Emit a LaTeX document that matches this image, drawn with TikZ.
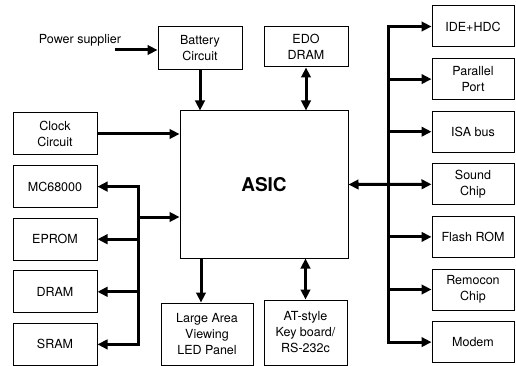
\documentclass[tikz,border=0pt]{standalone}
\usepackage{fontspec}
\setmainfont{TeX Gyre Heros}
\usetikzlibrary{arrows.meta}

\begin{document}
\begin{tikzpicture}[
    x=1pt, y=-1pt,
    every node/.style={font=\fontsize{12.5}{16}\selectfont, align=center, inner sep=0pt},
    blk/.style={draw, line width=1pt, minimum width=84pt, minimum height=42pt},
    bus/.style={line width=3pt},
    >={Triangle[length=10pt,width=9.5pt]},
]
\useasboundingbox (0,0) rectangle (516,366);

% === Layout ===
\def\rowH{52.6}
\coordinate (lb) at (138,0);
\coordinate (rb) at (388,0);

% === ASIC (centre) ===
\node[draw, line width=1pt, minimum width=168pt, minimum height=147pt,
      font=\fontsize{19}{21}\selectfont\bfseries] (asic) at (264,184.5) {ASIC};

% === Top row ===
\node (pwrtxt) at (80,40) {Power supplier};
\coordinate (pwr) at (115,50);
\node[blk, minimum height=43pt] (batt) at (200,48.5) {Battery\\Circuit};
\node[blk, minimum height=40pt] (edo) at (306,47) {EDO\\DRAM};

\draw[bus,->] (pwr) -- (pwr -| batt.west);
\draw[bus,->] (batt.south) -- (batt.south |- asic.north);
\draw[bus,<->] (edo.south) -- (edo.south |- asic.north);

% === Left column ===
\foreach \nm/\txt [count=\i from 0] in {clock/{Clock\\Circuit}, mc/MC68000, eprom/EPROM, dram/DRAM, sram/SRAM}
    \node[blk] (\nm) at (55,{134+\i*\rowH}) {\txt};

\draw[bus,->] (clock.east) -- (clock.east -| asic.west);
\draw[bus, line cap=rect] (mc.east -| lb) -- (sram.east -| lb);
\foreach \nm in {mc, eprom, dram, sram}
    \draw[bus,->] (\nm.east -| lb) -- (\nm.east);
\coordinate (ljoin) at (138,217);
\draw[bus,->] (ljoin) -- (ljoin -| asic.west);

% === Bottom row ===
\node[blk, minimum width=92pt, minimum height=62pt] (led) at (207,334) {Large Area\\Viewing\\LED Panel};
\node[blk, minimum width=83pt, minimum height=65pt] (kbd) at (305.5,332.5) {AT-style\\Key board/\\RS-232c};

\draw[bus,->] ([xshift=-6pt]led.north |- asic.south) -- ([xshift=-6pt]led.north);
\draw[bus,<->] (kbd.north |- asic.south) -- (kbd.north);

% === Right column ===
\foreach \nm/\txt [count=\i from 0] in {ide/IDE+HDC, par/{Parallel\\Port}, isa/ISA bus, sound/{Sound\\Chip}, flash/Flash ROM, remo/{Remocon\\Chip}, modem/Modem}
    \node[blk, minimum width=82pt, minimum height=41pt] (\nm) at (473,{26.5+\i*\rowH}) {\txt};

\draw[bus, line cap=rect] (ide.west -| rb) -- (modem.west -| rb);
\foreach \nm in {ide, par, isa, flash, remo, modem}
    \draw[bus,->] (\nm.west -| rb) -- (\nm.west);
\draw[bus,<->] (asic.east) -- (sound.west);

\end{tikzpicture}
\end{document}
